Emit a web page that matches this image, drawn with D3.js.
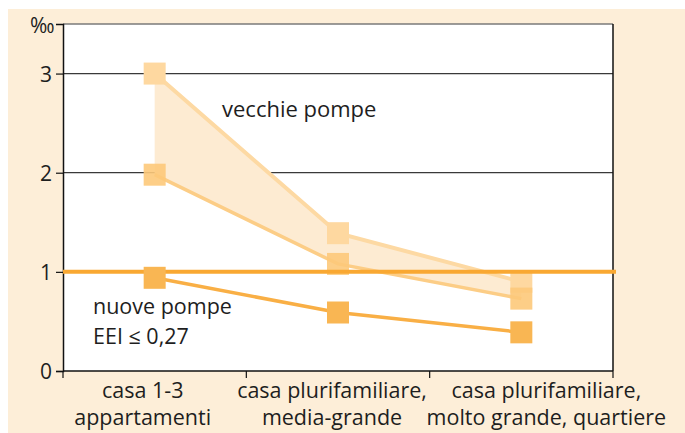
<!DOCTYPE html>
<html><head><meta charset="utf-8">
<script src="https://cdn.jsdelivr.net/npm/d3@7"></script>
<style>
html,body{margin:0;padding:0;background:#fff;}
svg{display:block;}
text{font-family:"Open Sans","Noto Sans",sans-serif;fill:#1e1e1e;}
</style></head>
<body>
<svg id="c" width="685" height="433"></svg>
<script>
const categories = ["casa 1-3\nappartamenti", "casa plurifamiliare,\nmedia-grande", "casa plurifamiliare,\nmolto grande, quartiere"];
const oldHigh = [3.0, 1.39, 0.90];
const oldLow = [1.98, 1.08, 0.73];
const newPumps = [0.94, 0.59, 0.39];
const threshold = 1.0;
const yTicks = [0, 1, 2, 3];
const gridValues = [2, 3];
const unitLabel = "‰";
const oldLabel = "vecchie pompe";
const newLabel = ["nuove pompe", "EEI ≤ 0,27"];

const svg = d3.select("#c");
const W = 685, H = 433;
const m = {left: 63, right: 613, top: 24, bottom: 371};

svg.append("rect").attr("x", 8).attr("y", 9).attr("width", W - 8).attr("height", H - 9).attr("fill", "#fdeed8");
svg.append("rect").attr("x", m.left).attr("y", m.top).attr("width", m.right - m.left).attr("height", m.bottom - m.top).attr("fill", "#fff");

const x = d3.scaleBand().domain(categories).range([m.left, m.right]).padding(0);
const y = d3.scaleLinear().domain([0, 3.5]).range([m.bottom, m.top]);
const cx = c => x(c) + x.bandwidth() / 2;

// grid
svg.append("g").selectAll("line").data(gridValues).join("line")
  .attr("x1", m.left).attr("x2", m.right)
  .attr("y1", d => y(d)).attr("y2", d => y(d))
  .attr("stroke", "#3a3a3a").attr("stroke-width", 1.2);
svg.append("line").attr("x1", m.left).attr("x2", m.right).attr("y1", m.top).attr("y2", m.top)
  .attr("stroke", "#7a7a7a").attr("stroke-width", 1.5);
svg.append("line").attr("x1", m.right).attr("x2", m.right).attr("y1", m.top).attr("y2", m.bottom)
  .attr("stroke", "#111").attr("stroke-width", 1.5);

// y axis
const yAxis = svg.append("g").attr("transform", `translate(${m.left},0)`)
  .call(d3.axisLeft(y).tickValues(yTicks).tickSize(7).tickPadding(4).tickFormat(d3.format("d")));
yAxis.select(".domain").attr("stroke", "#111").attr("stroke-width", 1.5);
yAxis.selectAll(".tick line").attr("stroke", "#111").attr("stroke-width", 1.2);
yAxis.selectAll(".tick text").attr("font-size", 21).attr("fill", "#1e1e1e").attr("dy", "0.36em")
  .style("font-family", '"Open Sans","Noto Sans",sans-serif');

// x axis
const xAxis = svg.append("g").attr("transform", `translate(0,${m.bottom})`);
xAxis.append("line").attr("x1", m.left).attr("x2", m.right).attr("y1", 0).attr("y2", 0)
  .attr("stroke", "#111").attr("stroke-width", 1.5);
const bounds = categories.map(c => x(c)).concat([m.right]);
xAxis.selectAll("line.t").data(bounds).join("line").attr("class", "t")
  .attr("x1", d => d).attr("x2", d => d).attr("y1", 0).attr("y2", 7)
  .attr("stroke", "#111").attr("stroke-width", 1.2);
const labelShift = [-12, -6, 25];
categories.forEach((c, i) => {
  const t = xAxis.append("text").attr("text-anchor", "middle").attr("font-size", 21.5)
    .attr("x", cx(c) + labelShift[i]).attr("y", 27);
  c.split("\n").forEach((ln, j) => {
    t.append("tspan").attr("x", cx(c) + labelShift[i]).attr("dy", j === 0 ? 0 : 27).text(ln);
  });
});

// old pumps band
const band = d3.area().x((d, i) => cx(categories[i])).y0((d, i) => y(oldLow[i])).y1(d => y(d));
svg.append("path").datum(oldHigh).attr("d", band).attr("fill", "#fdebd2");
const line = d3.line().x((d, i) => cx(categories[i])).y(d => y(d));
svg.append("path").datum(oldHigh).attr("d", line).attr("fill", "none").attr("stroke", "#fdd9a3").attr("stroke-width", 4);
svg.append("path").datum(oldLow).attr("d", line).attr("fill", "none").attr("stroke", "#fccd86").attr("stroke-width", 3.5);
const sq = 22;
svg.append("g").selectAll("rect").data(oldHigh).join("rect")
  .attr("x", (d, i) => cx(categories[i]) - sq / 2).attr("y", d => y(d) - sq / 2)
  .attr("width", sq).attr("height", sq).attr("fill", "#fed8a0");
svg.append("g").selectAll("rect").data(oldLow).join("rect")
  .attr("x", (d, i) => cx(categories[i]) - sq / 2).attr("y", d => y(d) - sq / 2)
  .attr("width", sq).attr("height", sq).attr("fill", "#fdc97a").attr("fill-opacity", 0.9);

// threshold
svg.append("line").attr("x1", m.left).attr("x2", m.right + 3).attr("y1", y(threshold)).attr("y2", y(threshold))
  .attr("stroke", "#f9a832").attr("stroke-width", 4);

// new pumps
svg.append("path").datum(newPumps).attr("d", line).attr("fill", "none").attr("stroke", "#f9af45").attr("stroke-width", 3.5);
svg.append("g").selectAll("rect").data(newPumps).join("rect")
  .attr("x", (d, i) => cx(categories[i]) - sq / 2).attr("y", d => y(d) - sq / 2)
  .attr("width", sq).attr("height", sq).attr("fill", "#f9b653");

// labels
svg.append("text").attr("x", 30).attr("y", 33).attr("font-size", 21).text(unitLabel);
svg.append("text").attr("x", 222).attr("y", 117).attr("font-size", 22).text(oldLabel);
newLabel.forEach((t, i) => {
  svg.append("text").attr("x", 93).attr("y", 314 + i * 30).attr("font-size", 21.5).text(t);
});
</script>
</body></html>
